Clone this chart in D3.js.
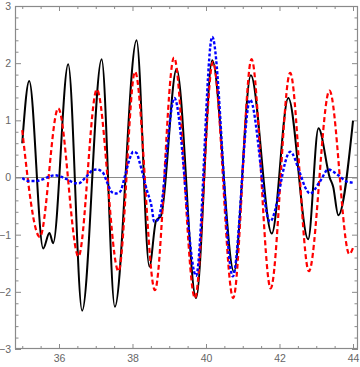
<!DOCTYPE html>
<html>
<head>
<meta charset="utf-8">
<script src="https://cdn.jsdelivr.net/npm/d3@7"></script>
<style>
body { margin: 0; background: #fff; }
</style>
</head>
<body>
<script>

// black solid series (extrema)
var blackX = [35.00, 35.19, 35.57, 35.74, 35.84, 36.25, 36.63, 37.16, 37.52, 38.11, 38.46, 38.64, 38.78,
              39.20, 39.73, 40.17, 40.76, 41.22, 41.79, 42.24, 42.78, 43.06, 43.37, 43.46, 43.60, 44.00];
var blackY = [0.60, 1.69, -1.24, -0.97, -1.15, 1.98, -2.33, 2.07, -2.26, 2.40, -1.56, -0.76, -0.66,
              1.90, -2.11, 2.05, -1.65, 1.79, -0.98, 1.39, -1.08, 0.86, -0.01, -0.16, -0.66, 0.99];

// red dashed series
var redX = [35.00, 35.48, 35.98, 36.53, 37.03, 37.62, 38.07, 38.61, 39.13, 39.70,
            40.19, 40.74, 41.24, 41.76, 42.29, 42.80, 43.36, 43.90, 44.00];
var redY = [0.83, -1.04, 1.21, -1.38, 1.54, -1.64, 1.85, -1.97, 2.10, -2.11,
            2.02, -2.11, 2.07, -1.94, 1.83, -1.64, 1.52, -1.34, -1.23];

// blue dotted series
var blueX = [35.00, 35.16, 35.39, 35.57, 35.71, 35.89, 36.07, 36.25, 36.44, 36.54, 36.71, 36.93, 37.03,
             37.20, 37.30, 37.43, 37.52, 37.66, 37.80, 37.93, 38.02, 38.11, 38.20, 38.39, 38.52, 38.59,
             38.69, 38.83, 38.93, 39.14, 39.73, 40.17, 40.73, 41.20, 41.74, 42.29, 42.56, 42.69, 42.83,
             43.10, 43.33, 43.60, 43.83, 44.00];
var blueY = [-0.01, -0.06, -0.06, -0.03, 0.01, 0.04, 0.01, -0.04, -0.10, -0.10, -0.01, 0.13, 0.14,
             0.08, -0.07, -0.25, -0.28, -0.25, 0.04, 0.34, 0.45, 0.43, 0.25, -0.22, -0.51, -0.77,
             -0.74, -0.27, 0.43, 1.39, -1.72, 2.46, -1.73, 1.36, -0.77, 0.45, 0.07, -0.16, -0.28,
             -0.07, 0.14, 0.04, -0.07, -0.09];

var xTicks = [36, 38, 40, 42, 44];
var yTicks = [-3, -2, -1, 0, 1, 2, 3];

var width = 360, height = 367;
var margin = {top: 6, right: 2, bottom: 18, left: 15};

var svg = d3.select("body").append("svg")
    .attr("width", width)
    .attr("height", height);

var x = d3.scaleLinear().domain([34.803, 44.136]).range([margin.left, width - margin.right]);
var y = d3.scaleLinear().domain([-3, 3]).range([height - margin.bottom, margin.top]);

var xMinor = d3.range(35, 44.01, 0.5).filter(function(d) { return xTicks.indexOf(d) < 0; });
var yMinor = d3.range(-30, 31, 2).map(function(d) { return d / 10; })
    .filter(function(d) { return yTicks.indexOf(d) < 0; });

var frameColor = "#8a8a8a";
var labelColor = "#666";

function minus(d) { return d < 0 ? "\u2212" + Math.abs(d) : String(d); }

// zero line
svg.append("line")
    .attr("x1", x.range()[0]).attr("x2", x.range()[1])
    .attr("y1", y(0)).attr("y2", y(0))
    .attr("stroke", frameColor).attr("stroke-width", 1);

// ticks on all four sides, pointing in
function addAxis(axis, tx, ty) {
  var g = svg.append("g").attr("transform", "translate(" + tx + "," + ty + ")").call(axis);
  g.select(".domain").remove();
  g.selectAll(".tick line").attr("stroke", frameColor);
  g.selectAll("text").attr("fill", labelColor)
      .attr("font-family", "'Liberation Sans', Arial, sans-serif").attr("font-size", "10.5px");
  return g;
}

var bottomY = y.range()[0], topY = y.range()[1];
var leftX = x.range()[0], rightX = x.range()[1];

addAxis(d3.axisBottom(x).tickValues(xTicks).tickSize(-5).tickPadding(6).tickFormat(minus), 0, bottomY);
addAxis(d3.axisBottom(x).tickValues(xMinor).tickSize(-3).tickFormat(""), 0, bottomY);
addAxis(d3.axisTop(x).tickValues(xTicks).tickSize(-5).tickFormat(""), 0, topY);
addAxis(d3.axisTop(x).tickValues(xMinor).tickSize(-3).tickFormat(""), 0, topY);

addAxis(d3.axisLeft(y).tickValues(yTicks).tickSize(-6).tickPadding(4).tickFormat(minus), leftX, 0);
addAxis(d3.axisLeft(y).tickValues(yMinor).tickSize(-3.5).tickFormat(""), leftX, 0);
addAxis(d3.axisRight(y).tickValues(yTicks).tickSize(-6).tickFormat(""), rightX, 0);
addAxis(d3.axisRight(y).tickValues(yMinor).tickSize(-3.5).tickFormat(""), rightX, 0);

// frame
svg.append("rect")
    .attr("x", leftX + 0.5).attr("y", topY + 0.5)
    .attr("width", rightX - leftX - 1).attr("height", bottomY - topY - 1)
    .attr("fill", "none").attr("stroke", frameColor).attr("stroke-width", 1.2);

svg.append("clipPath").attr("id", "clip")
  .append("rect")
    .attr("x", leftX).attr("y", topY)
    .attr("width", rightX - leftX).attr("height", bottomY - topY);

var line = d3.line()
    .x(function(d) { return x(d[0]); })
    .y(function(d) { return y(d[1]); })
    .curve(d3.curveMonotoneX);

var series = [
  {xs: blackX, ys: blackY, color: "#000", width: 2, dash: null},
  {xs: redX, ys: redY, color: "#ff0000", width: 2.2, dash: "5,3"},
  {xs: blueX, ys: blueY, color: "#0000ff", width: 2.4, dash: "3,2"}
];

svg.append("g").attr("clip-path", "url(#clip)")
  .selectAll("path")
  .data(series)
  .enter()
  .append("path")
    .attr("d", function(s) { return line(d3.zip(s.xs, s.ys)); })
    .attr("fill", "none")
    .attr("stroke", function(s) { return s.color; })
    .attr("stroke-width", function(s) { return s.width; })
    .attr("stroke-dasharray", function(s) { return s.dash; })
    .attr("stroke-linejoin", "round");

</script>
</body>
</html>
